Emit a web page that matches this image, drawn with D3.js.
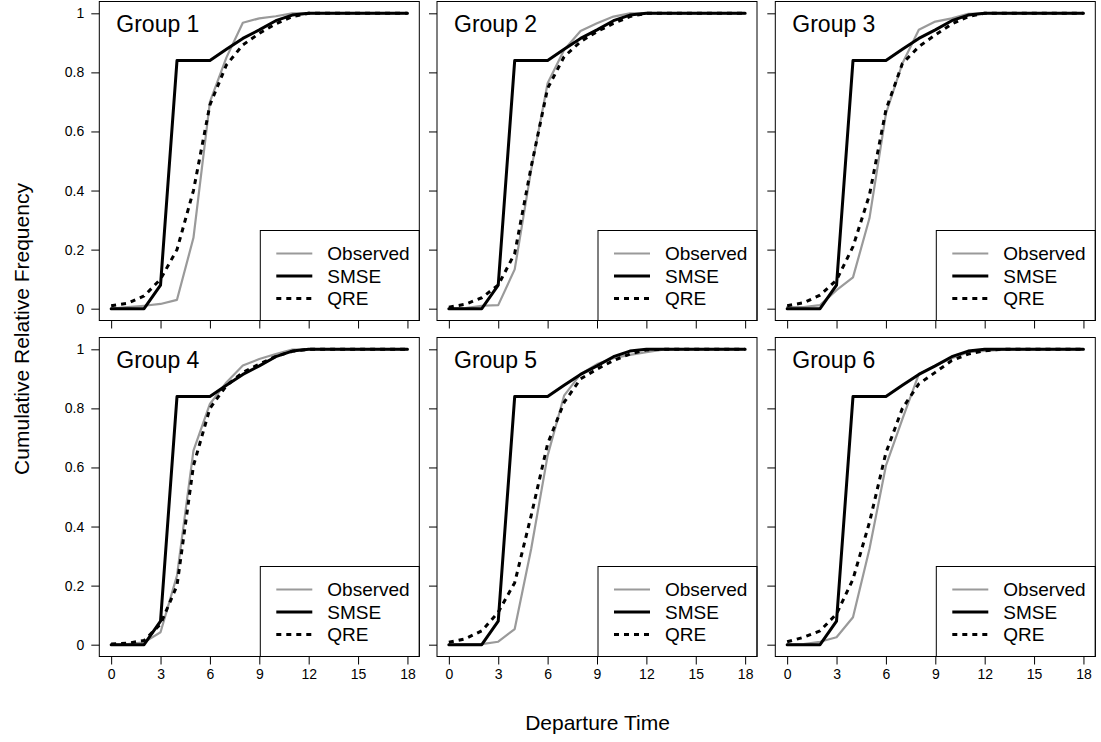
<!DOCTYPE html>
<html>
<head>
<meta charset="utf-8">
<script src="https://cdn.jsdelivr.net/npm/d3@7"></script>
<style>
  body { margin: 0; background: #fff; }
  svg { display: block; font-family: "Liberation Sans", Arial, Helvetica, sans-serif; }
  .tick line { stroke: #000; }
  .tick text { fill: #000; font-size: 14px; }
</style>
</head>
<body>
<svg id="chart" width="1101" height="742"></svg>
<script>
"use strict"

const departureTimes = [0, 1, 2, 3, 4, 5, 6, 7, 8, 9, 10, 11, 12, 13, 14, 15, 16, 17, 18]
const xTicks = [0, 3, 6, 9, 12, 15, 18]
const yTicks = [0, 0.2, 0.4, 0.6, 0.8, 1]
const groupNames = ["Group 1", "Group 2", "Group 3", "Group 4", "Group 5", "Group 6"]
const seriesNames = ["Observed", "SMSE", "QRE"]

// SMSE prediction is the same for every group
const smse = [0, 0, 0, 0.08, 0.84, 0.84, 0.84, 0.878, 0.915, 0.944, 0.975, 0.994, 1, 1, 1, 1, 1, 1, 1]

const observed1 = [0, 0.005, 0.01, 0.016, 0.03, 0.24, 0.70, 0.85, 0.968, 0.983, 0.99, 1, 1, 1, 1, 1, 1, 1, 1]
const observed2 = [0, 0.002, 0.01, 0.012, 0.133, 0.47, 0.763, 0.876, 0.94, 0.966, 0.989, 1, 1, 1, 1, 1, 1, 1, 1]
const observed3 = [0.005, 0.005, 0.012, 0.063, 0.106, 0.306, 0.66, 0.83, 0.944, 0.972, 0.983, 0.998, 1, 1, 1, 1, 1, 1, 1]
const observed4 = [0, 0.002, 0.008, 0.042, 0.234, 0.657, 0.815, 0.888, 0.945, 0.967, 0.984, 0.999, 1, 1, 1, 1, 1, 1, 1]
const observed5 = [0, 0.002, 0.002, 0.01, 0.053, 0.324, 0.64, 0.843, 0.916, 0.95, 0.97, 0.981, 0.99, 0.999, 1, 1, 1, 1, 1]
const observed6 = [0, 0.002, 0.01, 0.025, 0.093, 0.324, 0.606, 0.764, 0.916, 0.945, 0.97, 0.99, 0.995, 0.998, 1, 1, 1, 1, 1]

const qre1 = [0.01, 0.018, 0.043, 0.10, 0.20, 0.40, 0.69, 0.825, 0.893, 0.932, 0.964, 0.989, 1, 1, 1, 1, 1, 1, 1]
const qre2 = [0.005, 0.015, 0.037, 0.08, 0.187, 0.48, 0.746, 0.853, 0.904, 0.938, 0.966, 0.989, 1, 1, 1, 1, 1, 1, 1]
const qre3 = [0.01, 0.02, 0.046, 0.097, 0.21, 0.385, 0.673, 0.83, 0.887, 0.927, 0.964, 0.989, 1, 1, 1, 1, 1, 1, 1]
const qre4 = [0.002, 0.005, 0.014, 0.07, 0.2, 0.606, 0.80, 0.877, 0.922, 0.95, 0.976, 0.993, 1, 1, 1, 1, 1, 1, 1]
const qre5 = [0.008, 0.02, 0.047, 0.11, 0.21, 0.437, 0.68, 0.82, 0.9, 0.933, 0.962, 0.984, 0.998, 1, 1, 1, 1, 1, 1]
const qre6 = [0.01, 0.025, 0.047, 0.104, 0.222, 0.414, 0.65, 0.8, 0.883, 0.922, 0.962, 0.984, 0.995, 1, 1, 1, 1, 1, 1]

const observedAll = [observed1, observed2, observed3, observed4, observed5, observed6]
const qreAll = [qre1, qre2, qre3, qre4, qre5, qre6]

const panelW = 320
const panelH = 319
const colLefts = [99.3, 437, 775.3]
const rowTops = [1.5, 337.5]

// R style 4% padding on both axes
const padX = panelW * 0.04 / 1.08
const padY = panelH * 0.04 / 1.08

const x = d3.scaleLinear().domain([0, 18]).range([padX, panelW - padX])
const y = d3.scaleLinear().domain([0, 1]).range([panelH - padY, padY])

const styles = {
  Observed: { stroke: "#9a9a9a", width: 2.2, dash: null },
  SMSE: { stroke: "#000", width: 3, dash: null },
  QRE: { stroke: "#000", width: 3, dash: "5,5" },
}

const svg = d3.select("#chart")

const line = d3.line()
  .x((d, i) => x(departureTimes[i]))
  .y(d => y(d))

groupNames.forEach((name, gi) => {
  const col = gi % 3
  const row = Math.floor(gi / 3)
  const g = svg.append("g")
    .attr("transform", "translate(" + colLefts[col] + "," + rowTops[row] + ")")

  const xAxis = d3.axisBottom(x).tickValues(xTicks).tickSize(8).tickPadding(5)
  if (row === 0) xAxis.tickFormat("")
  g.append("g")
    .attr("transform", "translate(0," + panelH + ")")
    .call(xAxis)
    .call(a => a.select(".domain").remove())

  const yAxis = d3.axisLeft(y).tickValues(yTicks).tickSize(8).tickPadding(7)
    .tickFormat(d => (d === 0 || d === 1) ? String(d) : d.toFixed(1))
  if (col !== 0) yAxis.tickFormat("")
  g.append("g")
    .call(yAxis)
    .call(a => a.select(".domain").remove())

  const series = [
    { key: "Observed", values: observedAll[gi] },
    { key: "SMSE", values: smse },
    { key: "QRE", values: qreAll[gi] },
  ]

  g.selectAll("path.series")
    .data(series)
    .enter().append("path")
      .attr("class", "series")
      .attr("d", s => line(s.values))
      .attr("fill", "none")
      .attr("stroke", s => styles[s.key].stroke)
      .attr("stroke-width", s => styles[s.key].width)
      .attr("stroke-dasharray", s => styles[s.key].dash)
      .attr("stroke-linejoin", "round")
      .attr("stroke-linecap", s => s.key === "QRE" ? "butt" : "round")

  g.append("text")
    .attr("x", 17)
    .attr("y", 30)
    .attr("font-size", 23)
    .text(name)

  // legend in the lower right corner
  const legend = g.append("g").attr("transform", "translate(161,229)")
  legend.append("rect")
    .attr("width", panelW - 161)
    .attr("height", panelH - 229)
    .attr("fill", "#fff")
    .attr("stroke", "#000")
    .attr("stroke-width", 1)
  const items = legend.selectAll("g.item")
    .data(seriesNames)
    .enter().append("g")
      .attr("class", "item")
      .attr("transform", (d, i) => "translate(0," + (23 + i * 22.5) + ")")
  items.append("line")
    .attr("x1", 16).attr("x2", 52)
    .attr("stroke", d => styles[d].stroke)
    .attr("stroke-width", d => styles[d].width)
    .attr("stroke-dasharray", d => styles[d].dash)
  items.append("text")
    .attr("x", 67)
    .attr("dy", "0.35em")
    .attr("font-size", 19)
    .text(d => d)

  g.append("rect")
    .attr("width", panelW)
    .attr("height", panelH)
    .attr("fill", "none")
    .attr("stroke", "#000")
    .attr("stroke-width", 1)
})

svg.append("text")
  .attr("x", 597.5)
  .attr("y", 730)
  .attr("text-anchor", "middle")
  .attr("font-size", 21)
  .text("Departure Time")

svg.append("text")
  .attr("transform", "translate(29,329) rotate(-90)")
  .attr("text-anchor", "middle")
  .attr("font-size", 21)
  .text("Cumulative Relative Frequency")
</script>
</body>
</html>
